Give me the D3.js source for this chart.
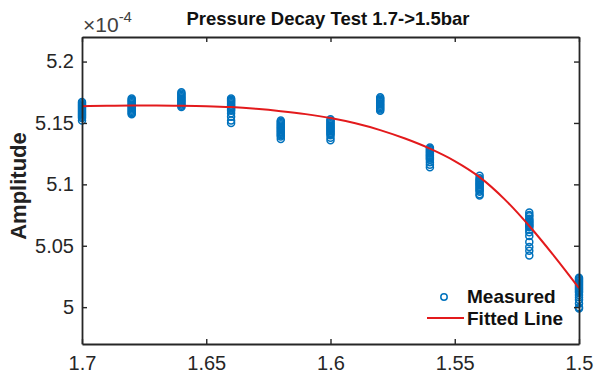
<!DOCTYPE html>
<head>
<meta charset="utf-8">
<title>Pressure Decay Test</title>
<script src="https://cdn.jsdelivr.net/npm/d3@7"></script>
<style>
  body { margin: 0; background: #fff; }
  text { font-family: "Liberation Sans", Arial, sans-serif; }
</style>
</head>
<body>
<svg width="597" height="377"></svg>
<script>
// pressure steps (bar), amplitude in units of 1e-4
var pressures = [1.70, 1.68, 1.66, 1.64, 1.62, 1.60, 1.58, 1.56, 1.54, 1.52, 1.50]

var measured = [
  [5.167,5.166,5.165,5.164,5.163,5.162,5.161,5.160,5.159,5.158,5.157,5.156,5.155,5.154,5.152],
  [5.170,5.169,5.168,5.167,5.166,5.165,5.164,5.163,5.162,5.161,5.160,5.159,5.158,5.157],
  [5.175,5.174,5.173,5.172,5.171,5.170,5.169,5.168,5.167,5.166,5.165,5.164,5.163],
  [5.170,5.169,5.168,5.167,5.166,5.165,5.164,5.163,5.162,5.161,5.160,5.158,5.155,5.152,5.150],
  [5.152,5.151,5.150,5.149,5.148,5.147,5.146,5.145,5.144,5.143,5.142,5.141,5.140,5.139,5.137],
  [5.153,5.152,5.151,5.150,5.149,5.148,5.147,5.146,5.145,5.144,5.143,5.142,5.141,5.140,5.138,5.136],
  [5.171,5.170,5.169,5.168,5.167,5.166,5.165,5.164,5.163,5.162,5.161,5.160],
  [5.130,5.129,5.128,5.127,5.126,5.125,5.124,5.123,5.122,5.121,5.120,5.118,5.116,5.114],
  [5.107,5.105,5.104,5.103,5.102,5.101,5.100,5.099,5.098,5.097,5.096,5.095,5.094,5.092,5.091],
  [5.077,5.075,5.074,5.072,5.071,5.070,5.069,5.068,5.067,5.066,5.065,5.063,5.061,5.058,5.053,5.049,5.046,5.042],
  [5.024,5.023,5.022,5.021,5.020,5.019,5.018,5.017,5.016,5.015,5.014,5.013,5.012,5.010,5.008,5.006,5.003,5.000,4.999]
]

// fitted curve
var fitX = [1.70, 1.69, 1.68, 1.67, 1.66, 1.65, 1.64, 1.63, 1.62, 1.61, 1.60, 1.59, 1.58, 1.57, 1.56, 1.55, 1.54, 1.53, 1.52, 1.51, 1.50]
var fitY = [5.1637, 5.1641, 5.1643, 5.1643, 5.1641, 5.1637, 5.1629, 5.1615, 5.1596, 5.1572, 5.1540, 5.1497,
            5.1442, 5.1373, 5.1291, 5.1190, 5.1059, 5.0880, 5.0661, 5.0416, 5.0155]

var xTicks = [1.7, 1.65, 1.6, 1.55, 1.5]
var yTicks = [5, 5.05, 5.1, 5.15, 5.2]

var svg = d3.select('svg')
  , mLeft = 82, mRight = 579, mTop = 37, mBottom = 344
  , axisColor = '#262626'
  , blue = '#0072BD'
  , red = '#e31a1c'

var x = d3.scaleLinear().domain([1.7, 1.5]).range([mLeft, mRight])
var y = d3.scaleLinear().domain([4.97, 5.22]).range([mBottom, mTop])

// points
var pts = []
measured.forEach(function (vals, i) {
  vals.forEach(function (v) { pts.push({p: pressures[i], v: v}) })
})

svg.append('g').selectAll('circle').data(pts).enter()
  .append('circle')
  .attr('cx', function (d) { return x(d.p) })
  .attr('cy', function (d) { return y(d.v) })
  .attr('r', 3.5)
  .attr('fill', 'none')
  .attr('stroke', blue)
  .attr('stroke-width', 1.5)

// fitted line
var line = d3.line()
  .x(function (d, i) { return x(fitX[i]) })
  .y(function (d) { return y(d) })
  .curve(d3.curveMonotoneX)

svg.append('path').datum(fitY)
  .attr('d', line)
  .attr('fill', 'none')
  .attr('stroke', red)
  .attr('stroke-width', 2)

// axes (box with inward ticks)
function styleAxis(g) {
  g.select('.domain').attr('stroke', axisColor).attr('stroke-width', 1.8)
  g.selectAll('.tick line').attr('stroke', axisColor).attr('stroke-width', 1.4)
  g.selectAll('.tick text').attr('fill', '#262626').style('font-size', '20px')
}

svg.append('g').attr('transform', 'translate(0,' + mBottom + ')')
  .call(d3.axisBottom(x).tickValues(xTicks).tickSizeInner(-5).tickSizeOuter(0).tickPadding(12)
    .tickFormat(d3.format('')))
  .call(styleAxis)

svg.append('g').attr('transform', 'translate(0,' + mTop + ')')
  .call(d3.axisTop(x).tickValues(xTicks).tickSizeInner(-5).tickSizeOuter(0).tickFormat(''))
  .call(styleAxis)

svg.append('g').attr('transform', 'translate(' + mLeft + ',0)')
  .call(d3.axisLeft(y).tickValues(yTicks).tickSizeInner(-5).tickSizeOuter(0).tickPadding(8)
    .tickFormat(d3.format('')))
  .call(styleAxis)

svg.append('g').attr('transform', 'translate(' + mRight + ',0)')
  .call(d3.axisRight(y).tickValues(yTicks).tickSizeInner(-5).tickSizeOuter(0).tickFormat(''))
  .call(styleAxis)

// exponent label
var ex = svg.append('text').attr('x', mLeft + 1).attr('y', 32)
  .attr('fill', '#404040').style('font-size', '21px')
ex.append('tspan').text('\u00d710')
ex.append('tspan').attr('dy', -10).style('font-size', '15px').text('-4')

// title
svg.append('text').attr('x', 328).attr('y', 25)
  .attr('text-anchor', 'middle').style('font-weight', 'bold').style('font-size', '18.5px')
  .attr('fill', '#111').text('Pressure Decay Test 1.7->1.5bar')

// y label
svg.append('text').attr('transform', 'translate(26,' + 186 + ') rotate(-90)')
  .attr('text-anchor', 'middle').style('font-weight', 'bold').style('font-size', '22px')
  .attr('fill', '#222').text('Amplitude')

// legend
var lg = svg.append('g')
lg.append('circle').attr('cx', 444).attr('cy', 297).attr('r', 3.2)
  .attr('fill', 'none').attr('stroke', blue).attr('stroke-width', 1.5)
lg.append('line').attr('x1', 427).attr('x2', 464).attr('y1', 318).attr('y2', 318)
  .attr('stroke', red).attr('stroke-width', 2)
lg.append('text').attr('x', 467).attr('y', 303).style('font-weight', 'bold')
  .style('font-size', '19px').attr('fill', '#111').text('Measured')
lg.append('text').attr('x', 467).attr('y', 325).style('font-weight', 'bold')
  .style('font-size', '19px').attr('fill', '#111').text('Fitted Line')
</script>
</body>
